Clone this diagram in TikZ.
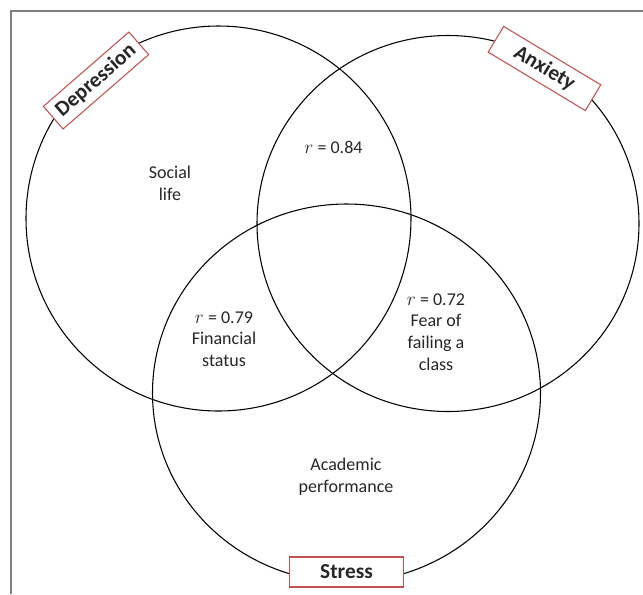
\documentclass[tikz,border=0pt]{standalone}
\usepackage{fontspec}
\setmainfont{Carlito}
\definecolor{tagred}{RGB}{196,82,80}
\definecolor{txtgray}{RGB}{38,38,38}

\begin{document}
\begin{tikzpicture}[x=0.75pt,y=-0.75pt,
  tag/.style={draw=tagred,fill=white,line width=0.8pt,minimum width=85pt,
    minimum height=22.5pt,inner sep=0pt,text=txtgray,
    font=\fontsize{16}{19}\selectfont\bfseries},
  lbl/.style={align=center,text=txtgray,font=\fontsize{13.5}{16.3}\selectfont}]
  \useasboundingbox (0,0) rectangle (643,594);
  \draw[gray,line width=1.5pt] (11,594) -- (11,11) -- (643,11);

  \draw[line width=0.8pt] (218.5,218.5) circle [radius=192.5];
  \draw[line width=0.8pt] (448,223.5) circle [x radius=191,y radius=188];
  \draw[line width=0.8pt] (346.5,393) circle [x radius=194,y radius=189];

  \node[tag,rotate=41] (dep) at (96,80.5) {Depression};
  \node[tag,rotate=-31] (anx) at (544.5,68.5) {Anxiety};
  \node[tag] (str) at (346.5,572) {Stress};

  \node[lbl] (social) at (170,183) {Social\\life};
  \node[lbl] (rda) at (333.5,147) {$r$ = 0.84};
  \node[lbl] (financial) at (224,339) {$r$ = 0.79\\Financial\\status};
  \node[lbl] (fear) at (436,332) {$r$ = 0.72\\Fear of\\failing a\\class};
  \node[lbl] (academic) at (346,477) {Academic\\performance};
\end{tikzpicture}
\end{document}
